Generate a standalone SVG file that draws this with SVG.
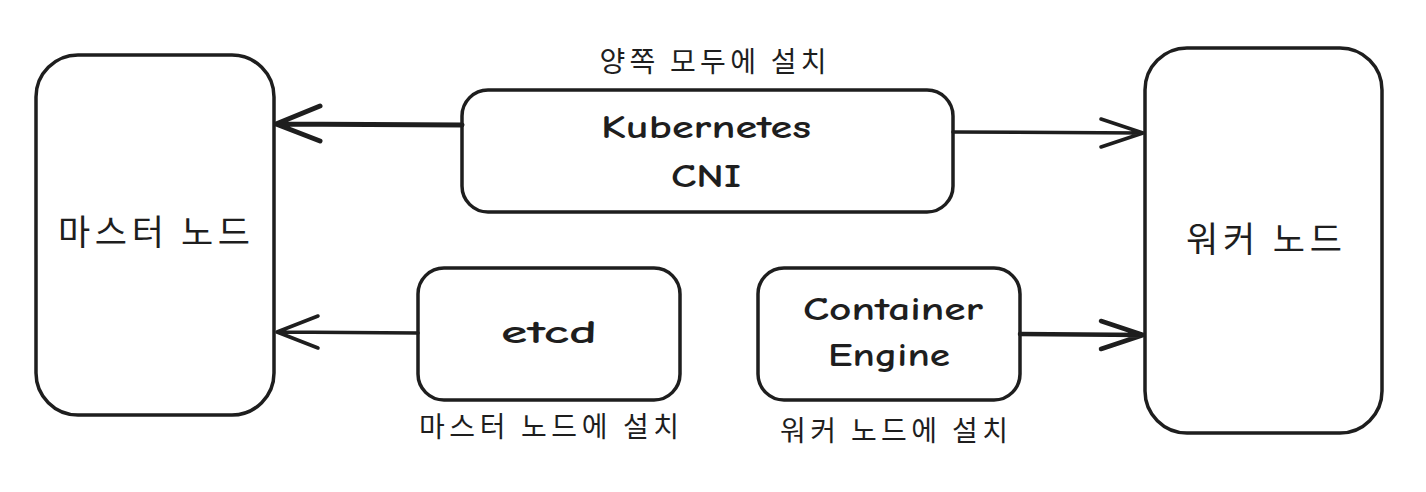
<svg xmlns="http://www.w3.org/2000/svg" width="1426" height="492" viewBox="0 0 1426 492">
<style>
.box{fill:#fff;stroke:#1e1e1e;stroke-width:3.5}
.ko{font-family:"Noto Sans CJK KR","Noto Sans",sans-serif;fill:#1e1e1e;text-anchor:middle}
.en{font-family:"Comic Neue","Lato","Noto Sans",sans-serif;fill:#1e1e1e;text-anchor:middle;font-size:32px;font-weight:600}
.conn{fill:none;stroke:#1e1e1e;stroke-linecap:round;stroke-linejoin:round}
</style>
<rect width="1426" height="492" fill="#fff"/>
<g id="master">
<rect class="box" x="36" y="55" width="238" height="360" rx="42"/>
<text class="ko" x="154" y="245" font-size="35" textLength="192" lengthAdjust="spacing">마스터 노드</text>
</g>
<g id="worker">
<rect class="box" x="1145" y="48" width="237" height="385" rx="42"/>
<text class="ko" x="1264" y="252" font-size="35" textLength="156" lengthAdjust="spacing">워커 노드</text>
</g>
<g id="cni">
<text class="ko" x="713" y="72" font-size="28" textLength="227" lengthAdjust="spacing">양쪽 모두에 설치</text>
<rect class="box" x="462" y="90" width="491" height="122" rx="26"/>
<text class="en" x="706" y="138" textLength="210" lengthAdjust="spacingAndGlyphs">Kubernetes</text>
<text class="en" x="706" y="187" textLength="70" lengthAdjust="spacingAndGlyphs">CNI</text>
</g>
<g id="etcd">
<rect class="box" x="418" y="268" width="262" height="132" rx="26"/>
<text class="en" x="549" y="343" textLength="96" lengthAdjust="spacingAndGlyphs">etcd</text>
<text class="ko" x="549" y="437" font-size="28" textLength="260" lengthAdjust="spacing">마스터 노드에 설치</text>
</g>
<g id="engine">
<rect class="box" x="758" y="268" width="262" height="132" rx="26"/>
<text class="en" x="893" y="320" textLength="180" lengthAdjust="spacingAndGlyphs">Container</text>
<text class="en" x="889" y="366" textLength="122" lengthAdjust="spacingAndGlyphs">Engine</text>
<text class="ko" x="894" y="441" font-size="28" textLength="228" lengthAdjust="spacing">워커 노드에 설치</text>
</g>
<g id="connectors">
<path class="conn" stroke-width="5" d="M462 125 L276 124 M276 124 L320 106 M276 124 L320 141"/>
<path class="conn" stroke-width="3.5" d="M953 132 L1143 133 M1143 133 L1101 119 M1143 133 L1101 147"/>
<path class="conn" stroke-width="3.5" d="M418 333 L277 332 M277 332 L318 316 M277 332 L318 348"/>
<path class="conn" stroke-width="4.5" d="M1020 334 L1143 335 M1143 335 L1101 321 M1143 335 L1101 349"/>
</g>
</svg>
